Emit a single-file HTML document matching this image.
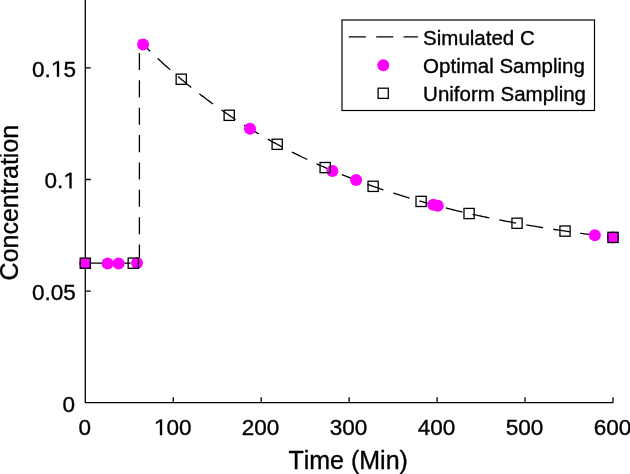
<!DOCTYPE html>
<html><head><meta charset="utf-8"><style>
html,body{margin:0;padding:0;background:#fff;width:630px;height:474px;overflow:hidden}
svg{display:block;will-change:transform}
text{font-family:"Liberation Sans",sans-serif;fill:#000;stroke:#000;stroke-width:0.35px;stroke-linejoin:round;font-kerning:none;white-space:pre}
.h{fill:none;stroke:none}
</style></head><body>
<svg width="630" height="474" viewBox="0 0 630 474">
<g stroke="#000" stroke-width="1.3" fill="none">
<path d="M85.3 0 V402.7 H613.0"/>
<path d="M173.25 402.7 v-5.5 M261.20 402.7 v-5.5 M349.15 402.7 v-5.5 M437.10 402.7 v-5.5 M525.05 402.7 v-5.5 M613.00 402.7 v-5.5"/>
<path d="M85.3 291.10 h5.5 M85.3 179.50 h5.5 M85.3 67.90 h5.5"/>
</g>
<g fill="#000">
<text x="74.90" y="411.50" text-anchor="end" font-size="22.5">0</text><text x="75.90" y="299.90" text-anchor="end" font-size="22.5">0.05</text><text x="75.90" y="188.30" text-anchor="end" font-size="22.5">0.<tspan class="h">1</tspan></text><path transform="translate(75.90 188.30) scale(0.010986 -0.010986)" stroke="#000" stroke-width="31.9" stroke-linejoin="round" d="M-579 0L-579 1237L-942 1010L-942 1180L-564 1409L-399 1409L-399 0Z"/><text x="75.90" y="76.70" text-anchor="end" font-size="22.5">0.<tspan class="h">1</tspan>5</text><path transform="translate(75.90 76.70) scale(0.010986 -0.010986)" stroke="#000" stroke-width="31.9" stroke-linejoin="round" d="M-1718 0L-1718 1237L-2081 1010L-2081 1180L-1703 1409L-1538 1409L-1538 0Z"/>
<text x="84.70" y="435.10" text-anchor="middle" font-size="22.5">0</text><text x="172.65" y="435.10" text-anchor="middle" font-size="22.5"><tspan class="h">1</tspan>00</text><path transform="translate(172.65 435.10) scale(0.010986 -0.010986)" stroke="#000" stroke-width="31.9" stroke-linejoin="round" d="M-1148.5 0L-1148.5 1237L-1511.5 1010L-1511.5 1180L-1133.5 1409L-968.5 1409L-968.5 0Z"/><text x="260.60" y="435.10" text-anchor="middle" font-size="22.5">200</text><text x="348.55" y="435.10" text-anchor="middle" font-size="22.5">300</text><text x="436.50" y="435.10" text-anchor="middle" font-size="22.5">400</text><text x="524.45" y="435.10" text-anchor="middle" font-size="22.5">500</text><text x="612.40" y="435.10" text-anchor="middle" font-size="22.5">600</text>
<text x="348.20" y="469.00" text-anchor="middle" font-size="25">Time (Min)</text><text transform="translate(17.50 202.60) rotate(-90)" text-anchor="middle" font-size="25">Concentration</text>
</g>
<path d="M85.30 263.20 L139.40 263.20 L139.40 40.67 L140.97 42.27 L142.56 43.85 L144.14 45.43 L145.73 46.99 L147.31 48.54 L148.89 50.08 L150.48 51.61 L152.06 53.13 L153.65 54.64 L155.23 56.14 L156.81 57.62 L158.40 59.10 L159.98 60.56 L161.57 62.02 L163.15 63.46 L164.73 64.90 L166.32 66.32 L167.90 67.73 L169.48 69.14 L171.07 70.53 L172.65 71.91 L174.24 73.29 L175.82 74.65 L177.40 76.00 L178.99 77.35 L180.57 78.68 L182.16 80.00 L183.74 81.32 L185.32 82.62 L186.91 83.92 L188.49 85.21 L190.08 86.49 L191.66 87.75 L193.24 89.01 L194.83 90.26 L196.41 91.51 L198.00 92.74 L199.58 93.96 L201.16 95.18 L202.75 96.38 L204.33 97.58 L205.92 98.77 L207.50 99.95 L209.08 101.12 L210.67 102.28 L212.25 103.44 L213.84 104.59 L215.42 105.72 L217.00 106.85 L218.59 107.98 L220.17 109.09 L221.76 110.20 L223.34 111.30 L224.92 112.39 L226.51 113.47 L228.09 114.54 L229.68 115.61 L231.26 116.67 L232.84 117.72 L234.43 118.77 L236.01 119.80 L237.60 120.83 L239.18 121.85 L240.76 122.87 L242.35 123.88 L243.93 124.88 L245.52 125.87 L247.10 126.85 L248.68 127.83 L250.27 128.81 L251.85 129.77 L253.44 130.73 L255.02 131.68 L256.60 132.62 L258.19 133.56 L259.77 134.49 L261.36 135.41 L262.94 136.33 L264.52 137.24 L266.11 138.15 L267.69 139.04 L269.28 139.94 L270.86 140.82 L272.44 141.70 L274.03 142.57 L275.61 143.44 L277.20 144.30 L278.78 145.15 L280.36 146.00 L281.95 146.84 L283.53 147.67 L285.12 148.50 L286.70 149.33 L288.28 150.14 L289.87 150.96 L291.45 151.76 L293.04 152.56 L294.62 153.35 L296.20 154.14 L297.79 154.93 L299.37 155.70 L300.96 156.48 L302.54 157.24 L304.12 158.00 L305.71 158.76 L307.29 159.51 L308.88 160.25 L310.46 160.99 L312.04 161.72 L313.63 162.45 L315.21 163.18 L316.80 163.89 L318.38 164.61 L319.96 165.31 L321.55 166.02 L323.13 166.71 L324.72 167.41 L326.30 168.09 L327.88 168.78 L329.47 169.45 L331.05 170.13 L332.64 170.80 L334.22 171.46 L335.80 172.12 L337.39 172.77 L338.97 173.42 L340.56 174.06 L342.14 174.70 L343.72 175.34 L345.31 175.97 L346.89 176.60 L348.47 177.22 L350.06 177.84 L351.64 178.45 L353.23 179.06 L354.81 179.66 L356.39 180.26 L357.98 180.86 L359.56 181.45 L361.15 182.03 L362.73 182.62 L364.31 183.19 L365.90 183.77 L367.48 184.34 L369.07 184.91 L370.65 185.47 L372.23 186.03 L373.82 186.58 L375.40 187.13 L376.99 187.68 L378.57 188.22 L380.15 188.76 L381.74 189.29 L383.32 189.82 L384.91 190.35 L386.49 190.87 L388.07 191.39 L389.66 191.90 L391.24 192.42 L392.83 192.92 L394.41 193.43 L395.99 193.93 L397.58 194.43 L399.16 194.92 L400.75 195.41 L402.33 195.90 L403.91 196.38 L405.50 196.86 L407.08 197.34 L408.67 197.81 L410.25 198.28 L411.83 198.74 L413.42 199.21 L415.00 199.67 L416.59 200.12 L418.17 200.58 L419.75 201.02 L421.34 201.47 L422.92 201.91 L424.51 202.35 L426.09 202.79 L427.67 203.22 L429.26 203.66 L430.84 204.08 L432.43 204.51 L434.01 204.93 L435.59 205.35 L437.18 205.76 L438.76 206.17 L440.35 206.58 L441.93 206.99 L443.51 207.39 L445.10 207.79 L446.68 208.19 L448.27 208.59 L449.85 208.98 L451.43 209.37 L453.02 209.75 L454.60 210.14 L456.19 210.52 L457.77 210.90 L459.35 211.27 L460.94 211.65 L462.52 212.02 L464.11 212.38 L465.69 212.75 L467.27 213.11 L468.86 213.47 L470.44 213.83 L472.03 214.18 L473.61 214.53 L475.19 214.88 L476.78 215.23 L478.36 215.57 L479.95 215.91 L481.53 216.25 L483.11 216.59 L484.70 216.93 L486.28 217.26 L487.87 217.59 L489.45 217.91 L491.03 218.24 L492.62 218.56 L494.20 218.88 L495.79 219.20 L497.37 219.52 L498.95 219.83 L500.54 220.14 L502.12 220.45 L503.71 220.76 L505.29 221.06 L506.87 221.37 L508.46 221.67 L510.04 221.96 L511.63 222.26 L513.21 222.55 L514.79 222.85 L516.38 223.13 L517.96 223.42 L519.55 223.71 L521.13 223.99 L522.71 224.27 L524.30 224.55 L525.88 224.83 L527.46 225.11 L529.05 225.38 L530.63 225.65 L532.22 225.92 L533.80 226.19 L535.38 226.45 L536.97 226.72 L538.55 226.98 L540.14 227.24 L541.72 227.50 L543.30 227.75 L544.89 228.01 L546.47 228.26 L548.06 228.51 L549.64 228.76 L551.22 229.01 L552.81 229.25 L554.39 229.50 L555.98 229.74 L557.56 229.98 L559.14 230.22 L560.73 230.45 L562.31 230.69 L563.90 230.92 L565.48 231.15 L567.06 231.38 L568.65 231.61 L570.23 231.84 L571.82 232.06 L573.40 232.29 L574.98 232.51 L576.57 232.73 L578.15 232.95 L579.74 233.17 L581.32 233.38 L582.90 233.60 L584.49 233.81 L586.07 234.02 L587.66 234.23 L589.24 234.44 L590.82 234.64 L592.41 234.85 L593.99 235.05 L595.58 235.25 L597.16 235.45 L598.74 235.65 L600.33 235.85 L601.91 236.05 L603.50 236.24 L605.08 236.44 L606.66 236.63 L608.25 236.82 L609.83 237.01 L611.42 237.20 L613.00 237.38" stroke="#000" stroke-width="1.3" fill="none" stroke-dasharray="17.1 10.27" stroke-dashoffset="-0.95"/>
<g fill="#ff00ff">
<circle cx="85.2" cy="263.3" r="6"/>
<circle cx="107.6" cy="263.4" r="6"/>
<circle cx="118.6" cy="263.4" r="6"/>
<circle cx="137" cy="263.1" r="6"/>
<circle cx="143.1" cy="44.4" r="6"/>
<circle cx="250.0" cy="128.7" r="6"/>
<circle cx="332.4" cy="170.9" r="6"/>
<circle cx="356.1" cy="180.1" r="6"/>
<circle cx="433.3" cy="204.8" r="6"/>
<circle cx="437.8" cy="205.7" r="6"/>
<circle cx="594.8" cy="235.2" r="6"/>
<circle cx="613" cy="237.5" r="6"/>
</g>
<g fill="none" stroke="#000" stroke-width="1.3">
<rect x="128.17" y="258.10" width="10.2" height="10.2"/>
<rect x="176.15" y="74.14" width="10.2" height="10.2"/>
<rect x="224.12" y="110.20" width="10.2" height="10.2"/>
<rect x="272.09" y="139.19" width="10.2" height="10.2"/>
<rect x="320.06" y="162.50" width="10.2" height="10.2"/>
<rect x="368.04" y="181.24" width="10.2" height="10.2"/>
<rect x="416.01" y="196.31" width="10.2" height="10.2"/>
<rect x="463.98" y="208.42" width="10.2" height="10.2"/>
<rect x="511.95" y="218.16" width="10.2" height="10.2"/>
<rect x="559.93" y="225.99" width="10.2" height="10.2"/>
</g>
<g fill="#ff00ff" stroke="#000" stroke-width="1.3">
<rect x="80.20" y="258.10" width="10.2" height="10.2"/>
<rect x="607.90" y="232.28" width="10.2" height="10.2"/>
</g>
<rect x="342" y="20" width="252.5" height="90.5" fill="#fff" stroke="#000" stroke-width="1.2"/>
<path d="M348.8 36.8 H417.9" stroke="#000" stroke-width="1.3" stroke-dasharray="17.1 10.27"/>
<circle cx="383.3" cy="65.2" r="6" fill="#ff00ff"/>
<rect x="378.09999999999997" y="88.2" width="10.2" height="10.2" fill="none" stroke="#000" stroke-width="1.3"/>
<g fill="#000"><text x="423.10" y="44.80" font-size="20.5">Simulated C</text><text x="423.10" y="73.00" font-size="20.5">Optimal Sampling</text><text x="423.10" y="101.20" font-size="20.5">Uniform Sampling</text></g>
</svg>
</body></html>
